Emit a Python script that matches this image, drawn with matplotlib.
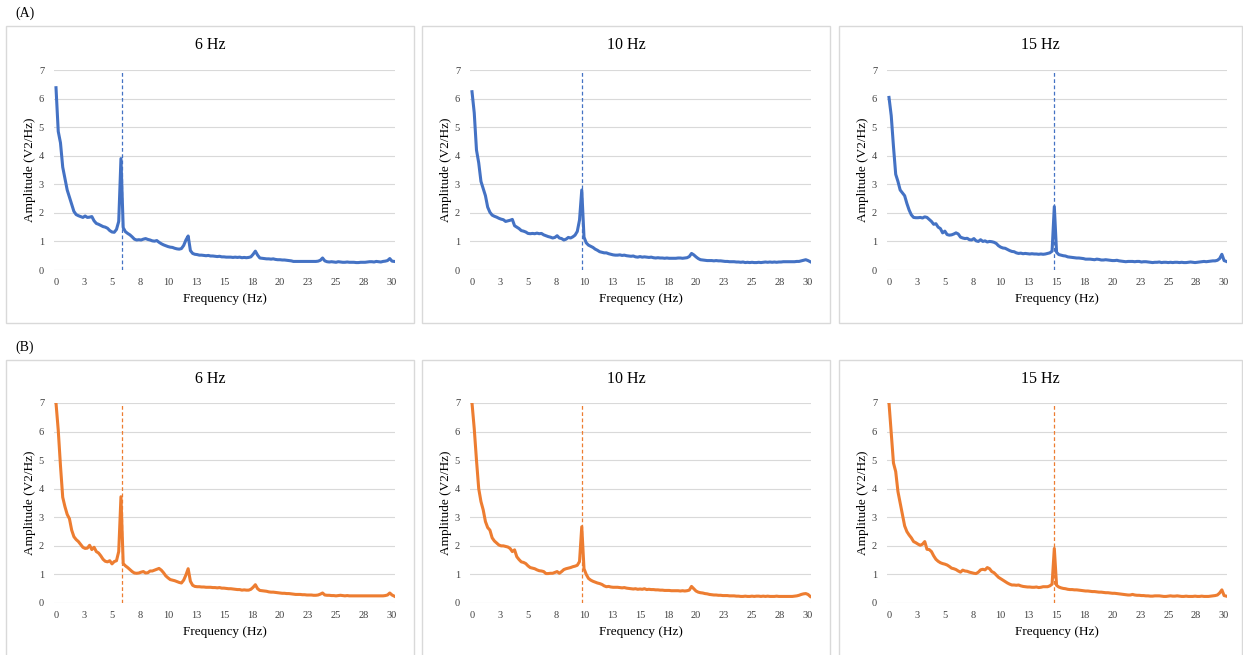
import numpy as np
import matplotlib.pyplot as plt
from matplotlib.patches import Rectangle

plt.rcParams['font.family'] = ['Liberation Serif', 'DejaVu Serif']

# frequency axis (Hz), 0.2 Hz resolution
freq = np.round(np.arange(0, 30.21, 0.2), 1)

# (A) blue spectra
amp_a6 = [
    6.38, 4.85, 4.45, 3.6, 3.2, 2.8, 2.55, 2.3, 2.05, 1.94,
    1.9, 1.87, 1.84, 1.89, 1.84, 1.85, 1.87, 1.72, 1.63, 1.6,
    1.56, 1.52, 1.5, 1.46, 1.38, 1.33, 1.32, 1.42, 1.7, 3.9,
    1.48, 1.34, 1.28, 1.23, 1.16, 1.08, 1.05, 1.06, 1.05, 1.08,
    1.1, 1.07, 1.05, 1.02, 1.01, 1.03, 0.97, 0.92, 0.88, 0.85,
    0.82, 0.8, 0.79, 0.76, 0.74, 0.73, 0.75, 0.86, 1.05, 1.19,
    0.68, 0.58, 0.55, 0.54, 0.52, 0.52, 0.51, 0.5, 0.51, 0.49,
    0.49, 0.48, 0.47, 0.48, 0.46, 0.46, 0.45, 0.45, 0.45, 0.44,
    0.45, 0.44, 0.45, 0.43, 0.44, 0.43, 0.44, 0.46, 0.55, 0.66,
    0.52, 0.42, 0.41, 0.4, 0.39, 0.39, 0.38, 0.39, 0.37, 0.36,
    0.36, 0.35, 0.35, 0.34, 0.33, 0.32, 0.3, 0.3, 0.3, 0.3,
    0.3, 0.3, 0.3, 0.3, 0.3, 0.3, 0.3, 0.31, 0.34, 0.42,
    0.32, 0.29, 0.28, 0.29, 0.28, 0.27, 0.29, 0.28, 0.27, 0.27,
    0.28, 0.27, 0.27, 0.27, 0.26, 0.26, 0.27, 0.27, 0.27, 0.28,
    0.29, 0.29, 0.28, 0.3, 0.29, 0.28, 0.3, 0.31, 0.33, 0.4,
    0.31, 0.3]

amp_a10 = [
    6.24, 5.5, 4.2, 3.75, 3.1, 2.85, 2.6, 2.2, 2.02, 1.92,
    1.88, 1.85, 1.81, 1.78, 1.76, 1.7, 1.72, 1.74, 1.77, 1.55,
    1.5, 1.45, 1.38, 1.36, 1.33, 1.28, 1.27, 1.28, 1.27, 1.29,
    1.27, 1.28, 1.23, 1.2, 1.17, 1.15, 1.12, 1.14, 1.2, 1.12,
    1.1, 1.05, 1.08, 1.14, 1.12, 1.16, 1.22, 1.35, 1.75, 2.8,
    1.15, 0.95, 0.87, 0.83, 0.79, 0.73, 0.69, 0.64, 0.62, 0.6,
    0.6, 0.57, 0.55, 0.53, 0.52, 0.52, 0.53, 0.51, 0.52, 0.5,
    0.49, 0.48, 0.49, 0.46, 0.45, 0.47, 0.45, 0.46, 0.45, 0.44,
    0.45, 0.43, 0.42, 0.43, 0.42, 0.42, 0.41, 0.42, 0.41, 0.41,
    0.41, 0.41, 0.42, 0.42, 0.41, 0.42, 0.43, 0.47, 0.58, 0.53,
    0.46, 0.4, 0.36, 0.35, 0.34, 0.33, 0.33, 0.33, 0.32, 0.33,
    0.32, 0.32, 0.31, 0.3, 0.3, 0.29, 0.29, 0.29, 0.28, 0.28,
    0.27, 0.28, 0.26, 0.27, 0.26, 0.27, 0.26, 0.26, 0.27, 0.26,
    0.27, 0.28, 0.27, 0.28, 0.27, 0.28, 0.27, 0.28, 0.28, 0.29,
    0.29, 0.29, 0.29, 0.29, 0.29, 0.3, 0.3, 0.32, 0.34, 0.36,
    0.33, 0.29]

amp_a15 = [
    6.04, 5.4, 4.32, 3.35, 3.1, 2.8, 2.7, 2.6, 2.33, 2.1,
    1.93, 1.84, 1.83, 1.83, 1.84, 1.82, 1.86, 1.84, 1.77, 1.7,
    1.6, 1.62, 1.5, 1.45, 1.3, 1.36, 1.24, 1.22, 1.23, 1.26,
    1.3, 1.26, 1.15, 1.12, 1.1, 1.11, 1.06, 1.05, 1.1, 1.02,
    1.0, 1.06, 1.0, 1.02, 0.98, 1.0, 0.99, 0.97, 0.93, 0.85,
    0.8, 0.77, 0.76, 0.72, 0.68, 0.65, 0.64, 0.6, 0.58, 0.59,
    0.57, 0.58, 0.57, 0.56, 0.57, 0.56, 0.56, 0.55, 0.56, 0.55,
    0.56, 0.58, 0.6, 0.66, 2.22, 0.62, 0.54, 0.52, 0.5, 0.49,
    0.46, 0.45, 0.44, 0.43, 0.42, 0.42, 0.41, 0.4, 0.38, 0.38,
    0.38, 0.37, 0.36, 0.38, 0.37, 0.35, 0.35, 0.36, 0.35, 0.34,
    0.33, 0.33, 0.34, 0.32, 0.31, 0.3, 0.29, 0.3, 0.3, 0.3,
    0.29, 0.3, 0.3, 0.28, 0.29, 0.29, 0.28, 0.27, 0.26, 0.27,
    0.27, 0.28, 0.26, 0.27, 0.27, 0.26, 0.27, 0.26, 0.27, 0.27,
    0.26, 0.27, 0.26, 0.26, 0.27, 0.28, 0.27, 0.26, 0.27, 0.28,
    0.29, 0.3, 0.29, 0.3, 0.31, 0.32, 0.32, 0.34, 0.4, 0.55,
    0.33, 0.3]

# (B) orange spectra
amp_b6 = [
    7.0, 6.05, 4.8, 3.7, 3.37, 3.1, 2.95, 2.55, 2.32, 2.22,
    2.15, 2.05, 1.95, 1.91, 1.92, 2.02, 1.87, 1.95, 1.8, 1.75,
    1.65, 1.53, 1.46, 1.44, 1.48, 1.37, 1.45, 1.48, 1.8, 3.72,
    1.38, 1.3, 1.24, 1.17, 1.1, 1.05, 1.04, 1.05, 1.08, 1.1,
    1.05, 1.06, 1.12, 1.12, 1.15, 1.18, 1.21, 1.15, 1.06, 0.95,
    0.88, 0.82, 0.8, 0.78, 0.75, 0.72, 0.7, 0.8, 0.98, 1.2,
    0.76, 0.62, 0.58, 0.57, 0.57, 0.56, 0.56, 0.55, 0.55, 0.55,
    0.54, 0.54, 0.53, 0.54, 0.52, 0.52, 0.51, 0.5, 0.5, 0.49,
    0.48, 0.47, 0.47, 0.45, 0.46, 0.45, 0.45, 0.48, 0.55, 0.64,
    0.5, 0.44, 0.43, 0.42, 0.41, 0.39, 0.38, 0.38, 0.37, 0.36,
    0.35, 0.34, 0.34, 0.33, 0.33, 0.32, 0.31, 0.3, 0.3, 0.3,
    0.29, 0.29, 0.28, 0.28, 0.28, 0.27, 0.27, 0.28, 0.31, 0.35,
    0.28, 0.27, 0.27, 0.26, 0.26, 0.25, 0.26, 0.27, 0.26, 0.25,
    0.26, 0.25, 0.25, 0.25, 0.25, 0.25, 0.25, 0.25, 0.25, 0.25,
    0.25, 0.25, 0.25, 0.25, 0.25, 0.25, 0.25, 0.26, 0.28, 0.35,
    0.28, 0.24]

amp_b10 = [
    7.0, 6.1, 5.0, 4.0, 3.55, 3.26, 2.85, 2.64, 2.55, 2.28,
    2.17, 2.1, 2.03, 2.0, 2.0, 1.98, 1.96, 1.91, 1.8, 1.86,
    1.62, 1.52, 1.44, 1.42, 1.38, 1.3, 1.24, 1.22, 1.2, 1.16,
    1.13, 1.12, 1.1, 1.03, 1.03, 1.04, 1.04, 1.07, 1.1, 1.04,
    1.1, 1.17, 1.2, 1.22, 1.24, 1.27, 1.29, 1.32, 1.45, 2.67,
    1.2, 1.0, 0.86, 0.8, 0.76, 0.73, 0.7, 0.68, 0.65, 0.6,
    0.57, 0.58, 0.56, 0.55, 0.55, 0.55, 0.54, 0.53, 0.54, 0.52,
    0.51, 0.5, 0.49, 0.5, 0.48, 0.49, 0.48, 0.5, 0.47, 0.48,
    0.47, 0.47, 0.46, 0.46, 0.45, 0.45, 0.44, 0.44, 0.44, 0.43,
    0.43, 0.43, 0.43, 0.42, 0.43, 0.42, 0.43, 0.45, 0.58, 0.5,
    0.42, 0.38, 0.36, 0.35, 0.33, 0.32, 0.3, 0.29, 0.28, 0.28,
    0.27, 0.27, 0.26, 0.26, 0.26, 0.25, 0.25, 0.25, 0.24, 0.24,
    0.23, 0.23, 0.24, 0.23, 0.23, 0.24, 0.23, 0.24, 0.24, 0.23,
    0.24, 0.23, 0.24, 0.23, 0.23, 0.23, 0.24, 0.23, 0.23, 0.23,
    0.23, 0.23, 0.23, 0.23, 0.24, 0.25, 0.27, 0.3, 0.32, 0.33,
    0.3, 0.23]

amp_b15 = [
    7.0, 5.94, 4.9, 4.6, 3.9, 3.5, 3.1, 2.7, 2.5, 2.38,
    2.28, 2.15, 2.11, 2.06, 2.02, 2.06, 2.15, 1.88, 1.87, 1.8,
    1.65, 1.53, 1.46, 1.41, 1.38, 1.36, 1.33, 1.28, 1.22, 1.2,
    1.17, 1.12, 1.08, 1.15, 1.12, 1.11, 1.08, 1.06, 1.04, 1.03,
    1.08, 1.16, 1.18, 1.16, 1.24, 1.2, 1.1, 1.06, 0.98, 0.9,
    0.85, 0.8, 0.75, 0.7, 0.66, 0.63, 0.63, 0.62, 0.63, 0.6,
    0.58, 0.57, 0.56, 0.56, 0.55, 0.55, 0.56, 0.54, 0.55, 0.57,
    0.57, 0.57, 0.6, 0.66, 1.91, 0.62, 0.56, 0.53, 0.51, 0.5,
    0.48, 0.47, 0.47, 0.46, 0.46, 0.45, 0.44, 0.43, 0.42, 0.42,
    0.41, 0.4, 0.4, 0.39, 0.38, 0.38, 0.37, 0.36, 0.36, 0.35,
    0.34, 0.34, 0.33, 0.32, 0.31, 0.3, 0.29, 0.28, 0.28, 0.3,
    0.28, 0.27, 0.27, 0.26, 0.26, 0.25, 0.25, 0.24, 0.24, 0.25,
    0.25, 0.25, 0.24, 0.23, 0.23, 0.24, 0.25, 0.24, 0.24, 0.25,
    0.24, 0.23, 0.23, 0.24, 0.23, 0.23, 0.23, 0.24, 0.23, 0.23,
    0.24, 0.23, 0.23, 0.23, 0.24, 0.25, 0.26, 0.28, 0.35, 0.46,
    0.26, 0.24]

titles = ['6 Hz', '10 Hz', '15 Hz']
stim_lines = [5.85, 9.85, 14.8]
rows = [('(A)', '#4472C4', [amp_a6, amp_a10, amp_a15]),
        ('(B)', '#ED7D31', [amp_b6, amp_b10, amp_b15])]

xticks = np.arange(0, 30.1, 2.5)
xticklabels = [str(int(np.floor(t + 0.5))) for t in xticks]

W, H = 1243, 655
fig = plt.figure(figsize=(W / 100, H / 100), dpi=100)

# pixel layout of each panel: box and axes origin
box_x = [(6, 414), (422, 830), (839, 1242)]
ax_x0 = [56, 472, 889]
row_y = [(26, 70, 270, 13), (360, 403, 603, 347)]  # box top, y=7, y=0, letter

for r, (letter, color, series) in enumerate(rows):
    box_top, y7, y0, ly = row_y[r]
    fig.text(15 / W, 1 - ly / H, letter, fontsize=10, ha='left', va='center')
    for c in range(3):
        bx0, bx1 = box_x[c]
        fig.add_artist(Rectangle((bx0 / W, 1 - (box_top + 297) / H),
                                 (bx1 - bx0) / W, 297 / H,
                                 transform=fig.transFigure, fill=False,
                                 edgecolor='#D9D9D9', linewidth=1))
        pxhz = 11.2 if c < 2 else 11.17
        left = ax_x0[c] - 0.2 * pxhz
        width = 30.5 * pxhz
        ax = fig.add_axes([left / W, 1 - y0 / H, width / W, (y0 - y7) / H])
        ax.plot(freq, series[c], color=color, linewidth=2.2, zorder=3)
        ax.axvline(stim_lines[c], color=color, linewidth=0.9,
                   linestyle=(0, (3, 2)), zorder=2)
        ax.set_xlim(-0.2, 30.3)
        ax.set_ylim(0, 7)
        ax.set_yticks(range(0, 8))
        ax.set_xticks(xticks)
        ax.set_xticklabels(xticklabels)
        ax.tick_params(length=0, labelsize=7.5, colors='#404040')
        ax.tick_params(axis='y', pad=7)
        ax.tick_params(axis='x', pad=6)
        ax.grid(axis='y', color='#D9D9D9', linewidth=0.8)
        ax.set_axisbelow(True)
        for s in ax.spines.values():
            s.set_visible(False)
        ax.set_xlabel('Frequency (Hz)', fontsize=9.5, labelpad=4)
        ax.set_ylabel('Amplitude (V2/Hz)', fontsize=9.5, labelpad=2)
        fig.text((bx0 + bx1) / 2 / W, 1 - (box_top + 19) / H, titles[c],
                 fontsize=11.5, ha='center', va='center')

fig.savefig('out.png', dpi=100)
